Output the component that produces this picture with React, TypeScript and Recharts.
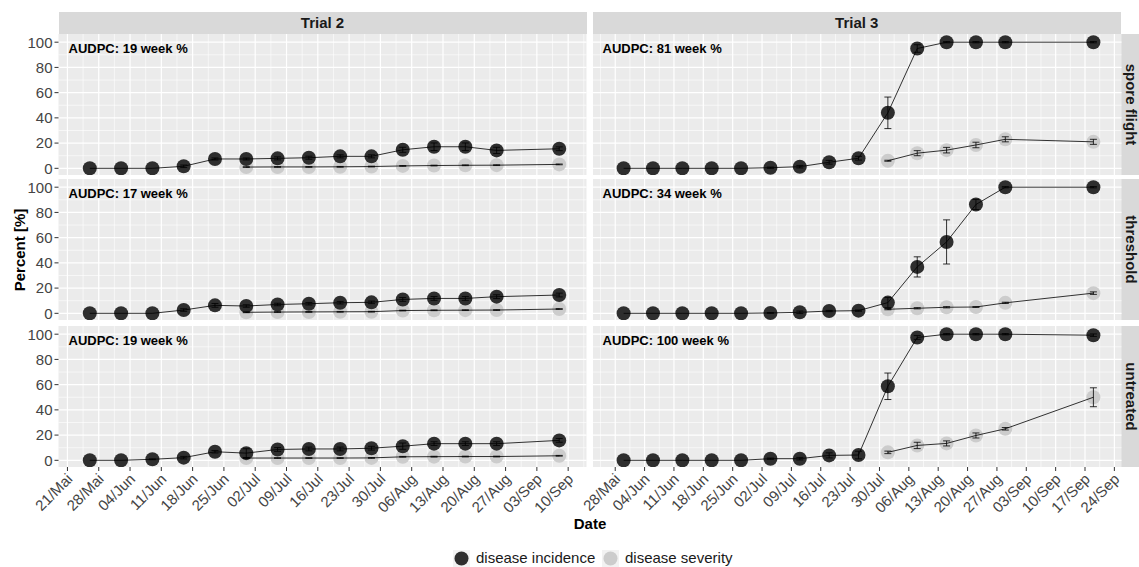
import React from "react";
import { CartesianGrid, ComposedChart, ErrorBar, Line, XAxis, YAxis } from "recharts";

const FONT = "'Liberation Sans', Arial, Helvetica, sans-serif";
const MONTHS = ["Jan", "Feb", "Mär", "Apr", "Mai", "Jun", "Jul", "Aug", "Sep", "Okt", "Nov", "Dez"];

// sampling dates (MM-DD)
const trial2Dates = ["05-26", "06-02", "06-09", "06-16", "06-23", "06-30", "07-07", "07-14", "07-21", "07-28", "08-04", "08-11", "08-18", "08-25", "09-08"];
const trial3Dates = ["05-30", "06-06", "06-13", "06-20", "06-27", "07-04", "07-11", "07-18", "07-25", "08-01", "08-08", "08-15", "08-22", "08-29", "09-19"];

// axis breaks
const trial2Ticks = ["05-21", "05-28", "06-04", "06-11", "06-18", "06-25", "07-02", "07-09", "07-16", "07-23", "07-30", "08-06", "08-13", "08-20", "08-27", "09-03", "09-10"];
const trial3Ticks = ["05-28", "06-04", "06-11", "06-18", "06-25", "07-02", "07-09", "07-16", "07-23", "07-30", "08-06", "08-13", "08-20", "08-27", "09-03", "09-10", "09-17", "09-24"];
const yTicks = [0, 20, 40, 60, 80, 100];
const yMinor = [10, 30, 50, 70, 90];

const N = null;

// Trial 2
const t2SporeInc = [0, 0, 0, 1.6, 7.4, 7.4, 7.9, 8.4, 9.5, 9.5, 14.7, 17.1, 17.1, 14.2, 15.5];
const t2SporeIncErr = [0, 0, 0, 1, 0.8, 0.8, 1.2, 1.2, 1.2, 1.2, 2, 3, 3, 2.5, 1.5];
const t2SporeSev = [N, N, N, N, N, 1, 1.1, 1.1, 1.2, 1.4, 1.9, 2.2, 2.4, 2.5, 3.1];
const t2SporeSevErr = [N, N, N, N, N, 0.3, 0.3, 0.3, 0.3, 0.3, 0.3, 0.3, 0.3, 0.3, 0.3];

const t2ThreshInc = [0, 0, 0, 2.6, 6.3, 5.8, 7, 7.6, 8.4, 8.7, 11, 11.8, 11.8, 13.2, 14.5];
const t2ThreshIncErr = [0, 0, 0, 1, 1.5, 1, 1, 1, 1, 1, 1.5, 1.5, 1.5, 1.5, 1.5];
const t2ThreshSev = [N, N, N, N, N, 0.8, 1, 1.1, 1.2, 1.3, 2.2, 2.4, 2.5, 2.6, 3.4];
const t2ThreshSevErr = [N, N, N, N, N, 0.3, 0.3, 0.3, 0.3, 0.3, 0.3, 0.3, 0.3, 0.3, 0.3];

const t2UntrInc = [0, 0, 0.8, 2.1, 6.8, 5.7, 8.6, 9, 9, 9.6, 11.2, 13.2, 13.2, 13.2, 15.8];
const t2UntrIncErr = [0, 0, 0.3, 1, 1, 3.5, 1.5, 1.5, 1.5, 1.5, 2.5, 1.5, 1.5, 1.5, 1.5];
const t2UntrSev = [N, N, N, N, N, 1.8, 1.8, 1.8, 1.8, 1.9, 2.8, 2.9, 3, 3, 3.6];
const t2UntrSevErr = [N, N, N, N, N, 0.3, 0.3, 0.3, 0.3, 0.3, 0.3, 0.3, 0.3, 0.3, 0.3];

// Trial 3
const t3SporeInc = [0, 0, 0, 0, 0, 0.5, 1.3, 4.8, 8, 44, 95, 100, 100, 100, 100];
const t3SporeIncErr = [0, 0, 0, 0, 0, 0.5, 1, 1.5, 1.5, 12.5, 3, 0.5, 0.5, 0.5, 0.5];
const t3SporeSev = [N, N, N, N, N, N, N, N, N, 6, 12, 14.4, 18.5, 23, 21];
const t3SporeSevErr = [N, N, N, N, N, N, N, N, N, 0.4, 2, 2.2, 2.2, 2, 2];

const t3ThreshInc = [0, 0, 0, 0, 0, 0.3, 0.8, 1.8, 2.1, 8.5, 36.8, 56.6, 86.3, 100, 100];
const t3ThreshIncErr = [0, 0, 0, 0, 0, 0.3, 1, 0.5, 0.5, 4, 8, 17.5, 4, 0.5, 0.5];
const t3ThreshSev = [N, N, N, N, N, N, N, N, N, 3.2, 4, 4.8, 5, 8.3, 16];
const t3ThreshSevErr = [N, N, N, N, N, N, N, N, N, 0.4, 0.5, 0.5, 0.3, 0.5, 1];

const t3UntrInc = [0, 0, 0, 0, 0, 1.3, 1.3, 3.9, 4.2, 58.7, 97.4, 100, 100, 100, 99.2];
const t3UntrIncErr = [0, 0, 0, 0, 0, 0.5, 1, 2, 3, 10.5, 1.5, 0.5, 0.5, 0.5, 1];
const t3UntrSev = [N, N, N, N, N, N, N, N, N, 6.3, 11.8, 13.4, 19.7, 25, 50];
const t3UntrSevErr = [N, N, N, N, N, N, N, N, N, 1, 2.5, 2, 2, 1, 7.5];

const audpc = [
  ["19", "81"],
  ["17", "34"],
  ["19", "100"],
];
const rowLabels = ["spore flight", "threshold", "untreated"];
const colLabels = ["Trial 2", "Trial 3"];

const day = (s: string) => {
  const [m, d] = s.split("-").map(Number);
  return Date.UTC(2000, m - 1, d) / 86400000;
};
const fmt = (v: number) => {
  const dt = new Date(v * 86400000);
  return String(dt.getUTCDate()).padStart(2, "0") + "/" + MONTHS[dt.getUTCMonth()];
};

const rows = (dates: string[], inc: any[], incErr: any[], sev: any[], sevErr: any[]) =>
  dates.map((d, i) => ({ t: day(d), inc: inc[i], incErr: incErr[i], sev: sev[i], sevErr: sevErr[i] }));

const trial2Domain = [day("05-19"), day("09-14") + 0.1];
const trial3Domain = [day("05-22") + 0.7, day("09-25") + 0.7];
const yDomain = [-5.3, 106.5];

const minorOf = (ticks: number[], dom: number[]) => {
  const out: number[] = [];
  [ticks[0] - 3.5, ...ticks.map((t) => t + 3.5)].forEach((v) => {
    if (v > dom[0] && v < dom[1]) out.push(v);
  });
  return out;
};

const cols = [
  {
    x: 58.5,
    w: 528,
    domain: trial2Domain,
    ticks: trial2Ticks.map(day),
    data: [
      rows(trial2Dates, t2SporeInc, t2SporeIncErr, t2SporeSev, t2SporeSevErr),
      rows(trial2Dates, t2ThreshInc, t2ThreshIncErr, t2ThreshSev, t2ThreshSevErr),
      rows(trial2Dates, t2UntrInc, t2UntrIncErr, t2UntrSev, t2UntrSevErr),
    ],
  },
  {
    x: 592.5,
    w: 528.5,
    domain: trial3Domain,
    ticks: trial3Ticks.map(day),
    data: [
      rows(trial3Dates, t3SporeInc, t3SporeIncErr, t3SporeSev, t3SporeSevErr),
      rows(trial3Dates, t3ThreshInc, t3ThreshIncErr, t3ThreshSev, t3ThreshSevErr),
      rows(trial3Dates, t3UntrInc, t3UntrIncErr, t3UntrSev, t3UntrSevErr),
    ],
  },
];
const rowTops = [34, 179, 325.5];
const PANEL_H = 141;
const Y_AXIS_W = 58.5;
const X_AXIS_H = 62;
const INC = "#2E2E2E";
const SEV = "#CCCCCC";

const DateTick = (props: any) => {
  const { x, y, payload } = props;
  const ax = x + 6;
  const ay = y + 7;
  return (
    <text x={ax} y={ay} transform={`rotate(-45 ${ax} ${ay})`} textAnchor="end" fontSize={15} fill="#444" fontFamily={FONT}>
      {fmt(payload.value)}
    </text>
  );
};

function Panel({ col, row }: { col: number; row: number }) {
  const c = cols[col];
  const data = c.data[row];
  const showY = col === 0;
  const showX = row === 2;
  const axW = showY ? Y_AXIS_W : 0;
  const axH = showX ? X_AXIS_H : 0;
  const width = c.w + axW;
  const height = PANEL_H + axH;
  const pos = { position: "absolute" as const, left: c.x - axW, top: rowTops[row] };
  return (
    <>
      {/* background, axes and points */}
      <div style={pos}>
        <ComposedChart width={width} height={height} data={data} margin={{ top: 0, right: 0, bottom: 0, left: 0 }} style={{ fontFamily: FONT }}>
          <XAxis
            type="number"
            dataKey="t"
            domain={c.domain}
            ticks={c.ticks}
            interval={0}
            allowDataOverflow
            axisLine={false}
            tickLine={{ stroke: "#333" }}
            tickSize={4}
            height={X_AXIS_H}
            tick={<DateTick />}
            hide={!showX}
          />
          <YAxis
            type="number"
            domain={yDomain}
            ticks={yTicks}
            interval={0}
            allowDataOverflow
            axisLine={false}
            tickLine={{ stroke: "#333" }}
            tickSize={4}
            tickMargin={2}
            width={Y_AXIS_W}
            tick={{ fill: "#444", fontSize: 15, fontFamily: FONT }}
            hide={!showY}
          />
          <CartesianGrid fill="#EBEBEB" stroke="#FFFFFF" strokeWidth={0.6} horizontalValues={yMinor} verticalValues={minorOf(c.ticks, c.domain)} />
          <CartesianGrid fill="none" stroke="#FFFFFF" strokeWidth={1.2} horizontalValues={yTicks} verticalValues={c.ticks} />
          <Line dataKey="sev" stroke="none" dot={{ r: 7, fill: SEV, stroke: "none", fillOpacity: 1 }} activeDot={false} isAnimationActive={false} />
          <Line dataKey="inc" stroke="none" dot={{ r: 7, fill: INC, stroke: "none", fillOpacity: 1 }} activeDot={false} isAnimationActive={false} />
        </ComposedChart>
      </div>
      {/* connecting lines and error bars, drawn over the points */}
      <div style={pos}>
        <ComposedChart width={width} height={height} data={data} margin={{ top: 0, right: 0, bottom: axH, left: axW }}>
          <XAxis type="number" dataKey="t" domain={c.domain} allowDataOverflow hide />
          <YAxis type="number" domain={yDomain} allowDataOverflow hide />
          <Line dataKey="sev" stroke="#000" strokeWidth={0.8} dot={false} activeDot={false} isAnimationActive={false}>
            <ErrorBar dataKey="sevErr" width={3.5} stroke="#000" strokeWidth={0.8} direction="y" />
          </Line>
          <Line dataKey="inc" stroke="#000" strokeWidth={0.8} dot={false} activeDot={false} isAnimationActive={false}>
            <ErrorBar dataKey="incErr" width={3.5} stroke="#000" strokeWidth={0.8} direction="y" />
          </Line>
        </ComposedChart>
      </div>
    </>
  );
}

export default function App() {
  const bold = { fontWeight: 700, fontFamily: FONT } as const;
  return (
    <div style={{ position: "absolute", left: 0, top: 0, width: 1139, height: 567, background: "#fff", overflow: "hidden", fontFamily: FONT }}>
      <style>{`.recharts-surface { overflow: visible; }`}</style>
      {cols.map((c, ci) => (
        <div
          key={"strip" + ci}
          style={{ ...bold, position: "absolute", left: c.x, top: 12, width: c.w, height: 22, background: "#D9D9D9", color: "#1A1A1A", fontSize: 15, lineHeight: "22px", textAlign: "center" }}
        >
          {colLabels[ci]}
        </div>
      ))}
      {rowTops.map((t, ri) => (
        <div key={"rstrip" + ri} style={{ position: "absolute", left: 1121, top: t, width: 18, height: PANEL_H, background: "#D9D9D9", overflow: "hidden" }}>
          <div
            style={{ ...bold, position: "absolute", left: 9.5 - 70, top: PANEL_H / 2 - 7.5, width: 140, height: 15, lineHeight: "15px", fontSize: 15, color: "#1A1A1A", textAlign: "center", transform: "rotate(90deg)" }}
          >
            {rowLabels[ri]}
          </div>
        </div>
      ))}
      {rowTops.map((_, ri) => cols.map((_c, ci) => <Panel key={ri + "-" + ci} col={ci} row={ri} />))}
      {rowTops.map((t, ri) =>
        cols.map((c, ci) => (
          <div key={"a" + ri + ci} style={{ ...bold, position: "absolute", left: c.x + 10, top: t + 7, fontSize: 13, lineHeight: "16px", color: "#000", whiteSpace: "nowrap" }}>
            {`AUDPC: ${audpc[ri][ci]} week %`}
          </div>
        ))
      )}
      <div style={{ ...bold, position: "absolute", left: 20 - 100, top: 250 - 10, width: 200, height: 20, lineHeight: "20px", fontSize: 15, color: "#000", textAlign: "center", transform: "rotate(-90deg)" }}>
        Percent [%]
      </div>
      <div style={{ ...bold, position: "absolute", left: 490, top: 515, width: 200, lineHeight: "18px", fontSize: 15, color: "#000", textAlign: "center" }}>Date</div>
      <svg style={{ position: "absolute", left: 453, top: 550 }} width={17} height={17}>
        <rect width={17} height={17} fill="#F2F2F2" />
        <circle cx={8.5} cy={8.5} r={7} fill={INC} />
      </svg>
      <div style={{ position: "absolute", left: 476, top: 549, fontSize: 15, lineHeight: "18px", color: "#1A1A1A" }}>disease incidence</div>
      <svg style={{ position: "absolute", left: 602, top: 550 }} width={17} height={17}>
        <rect width={17} height={17} fill="#F2F2F2" />
        <circle cx={8.5} cy={8.5} r={7} fill={SEV} />
      </svg>
      <div style={{ position: "absolute", left: 625, top: 549, fontSize: 15, lineHeight: "18px", color: "#1A1A1A" }}>disease severity</div>
    </div>
  );
}
